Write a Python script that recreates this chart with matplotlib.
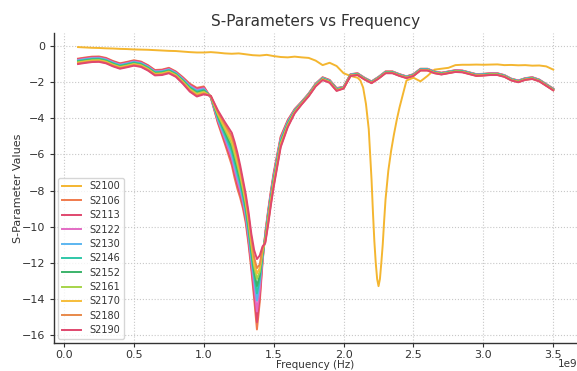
import numpy as np
import matplotlib
matplotlib.use("Agg")
import matplotlib.pyplot as plt

# ---------------- data (frequency in GHz, converted to Hz when drawn) ----------------
freq_ref = [0.10, 0.15, 0.20, 0.25, 0.30, 0.35, 0.40, 0.45, 0.50, 0.55, 0.60, 0.65, 0.70, 0.75,
            0.80, 0.85, 0.90, 0.95, 1.00, 1.05, 1.10, 1.15, 1.20, 1.25, 1.30, 1.35, 1.40, 1.45,
            1.50, 1.55, 1.60, 1.65, 1.70, 1.75, 1.80, 1.85, 1.90, 1.95, 2.00, 2.05, 2.10,
            2.12, 2.14, 2.16, 2.18, 2.20,
            2.21, 2.22, 2.23, 2.24, 2.25, 2.26, 2.27, 2.28, 2.29, 2.30,
            2.32, 2.34, 2.36, 2.38, 2.40,
            2.45, 2.50, 2.55, 2.60, 2.65, 2.70, 2.75, 2.80, 2.85, 2.90, 2.95, 3.00, 3.05,
            3.10, 3.15, 3.20, 3.25, 3.30, 3.35, 3.40, 3.45, 3.50]

S2100 = [-0.05, -0.07, -0.09, -0.10, -0.12, -0.13, -0.15, -0.16, -0.18, -0.19, -0.20, -0.22, -0.24, -0.26,
         -0.27, -0.30, -0.33, -0.35, -0.35, -0.33, -0.36, -0.40, -0.42, -0.40, -0.45, -0.50, -0.52, -0.48,
         -0.55, -0.60, -0.62, -0.58, -0.62, -0.65, -0.80, -1.05, -0.92, -1.10, -1.50, -1.65, -1.75,
         -1.90, -2.30, -3.20, -4.60, -7.40,
         -9.20, -10.80, -12.00, -12.90, -13.30, -12.90, -12.00, -11.00, -9.70, -8.50,
         -6.90, -5.80, -4.90, -4.10, -3.40,
         -1.90, -1.75, -1.95, -1.65, -1.30, -1.25, -1.20, -1.05, -1.03, -1.03, -1.02, -1.03, -1.02,
         -1.01, -1.05, -1.04, -1.06, -1.05, -1.08, -1.07, -1.12, -1.30]

freq = [0.10, 0.15, 0.20, 0.25, 0.30, 0.35, 0.40, 0.45, 0.50, 0.55, 0.60, 0.65, 0.70, 0.75,
        0.80, 0.85, 0.90, 0.95, 1.00, 1.05, 1.10, 1.15, 1.20,
        1.22, 1.24, 1.26, 1.28, 1.30, 1.32, 1.34, 1.36, 1.38, 1.40, 1.42, 1.44, 1.46, 1.48, 1.50,
        1.55, 1.60, 1.65, 1.70, 1.75, 1.80, 1.85, 1.90, 1.95,
        2.00, 2.05, 2.10, 2.15, 2.20, 2.25, 2.30, 2.35, 2.40, 2.45, 2.50, 2.55, 2.60, 2.65, 2.70,
        2.75, 2.80, 2.85, 2.90, 2.95, 3.00, 3.05, 3.10, 3.15, 3.20, 3.25, 3.30, 3.35, 3.40, 3.45, 3.50]

S2106 = [-0.69, -0.63, -0.58, -0.57, -0.65, -0.82, -0.95, -0.87, -0.78, -0.85, -1.05, -1.32, -1.30, -1.20, -1.40,
         -1.72, -2.08, -2.31, -2.23,
         -2.85, -4.25, -5.40, -6.60, -7.30, -7.90, -8.40, -9.00, -9.80, -11.00, -12.40,
         -14.00, -15.70, -14.20, -12.00,
         -10.30, -9.10, -8.00, -7.00, -5.00, -4.10, -3.48,
         -3.07, -2.62, -2.07, -1.72, -1.87, -2.32,
         -2.25, -1.55, -1.50, -1.75, -1.95, -1.70, -1.40, -1.40, -1.55, -1.67, -1.55, -1.25, -1.25, -1.40, -1.47,
         -1.40, -1.33, -1.35, -1.45, -1.55, -1.53, -1.50, -1.50, -1.60, -1.80, -1.90, -1.77, -1.72, -1.85, -2.10, -2.35]
S2113 = [-0.72, -0.66, -0.61, -0.60, -0.68, -0.85, -0.98, -0.90, -0.81, -0.88, -1.08, -1.35, -1.33, -1.23, -1.43,
         -1.76, -2.13, -2.36, -2.28,
         -2.84, -4.17, -5.27, -6.40, -7.08, -7.68, -8.20, -8.82, -9.62, -10.80, -12.18,
         -13.70, -15.30, -13.90, -11.90,
         -10.37, -9.19, -8.09, -7.09, -5.07, -4.14, -3.51,
         -3.09, -2.64, -2.09, -1.74, -1.89, -2.34,
         -2.26, -1.56, -1.51, -1.76, -1.96, -1.71, -1.41, -1.41, -1.56, -1.68, -1.56, -1.26, -1.26, -1.41, -1.48,
         -1.41, -1.34, -1.36, -1.46, -1.56, -1.54, -1.51, -1.51, -1.61, -1.81, -1.91, -1.78, -1.73, -1.86, -2.11, -2.36]
S2122 = [-0.76, -0.70, -0.65, -0.64, -0.72, -0.89, -1.02, -0.94, -0.85, -0.92, -1.12, -1.39, -1.37, -1.27, -1.47,
         -1.80, -2.18, -2.42, -2.33,
         -2.83, -4.09, -5.13, -6.20, -6.86, -7.46, -8.00, -8.64, -9.44, -10.60, -11.96,
         -13.30, -14.70, -13.50, -11.80,
         -10.43, -9.28, -8.18, -7.18, -5.13, -4.19, -3.53,
         -3.11, -2.66, -2.11, -1.76, -1.91, -2.36,
         -2.27, -1.57, -1.52, -1.77, -1.97, -1.72, -1.42, -1.42, -1.57, -1.69, -1.57, -1.27, -1.27, -1.42, -1.49,
         -1.42, -1.35, -1.37, -1.47, -1.57, -1.55, -1.52, -1.52, -1.62, -1.82, -1.92, -1.79, -1.74, -1.87, -2.12, -2.37]
S2130 = [-0.79, -0.73, -0.68, -0.67, -0.75, -0.92, -1.05, -0.97, -0.88, -0.95, -1.15, -1.42, -1.40, -1.30, -1.50,
         -1.84, -2.23, -2.47, -2.38,
         -2.82, -4.02, -5.00, -6.00, -6.63, -7.23, -7.80, -8.47, -9.27, -10.40, -11.73,
         -12.90, -14.10, -13.10, -11.70,
         -10.50, -9.37, -8.27, -7.27, -5.20, -4.23, -3.56,
         -3.12, -2.67, -2.12, -1.77, -1.92, -2.37,
         -2.28, -1.58, -1.53, -1.78, -1.98, -1.73, -1.43, -1.43, -1.58, -1.70, -1.58, -1.28, -1.28, -1.43, -1.50,
         -1.43, -1.36, -1.38, -1.48, -1.58, -1.56, -1.53, -1.53, -1.63, -1.83, -1.93, -1.80, -1.75, -1.88, -2.13, -2.38]
S2146 = [-0.82, -0.76, -0.71, -0.70, -0.78, -0.95, -1.08, -1.00, -0.91, -0.98, -1.18, -1.45, -1.43, -1.33, -1.53,
         -1.88, -2.28, -2.52, -2.43,
         -2.81, -3.94, -4.87, -5.80, -6.41, -7.01, -7.60, -8.29, -9.09, -10.20, -11.51,
         -12.70, -13.70, -12.90, -11.60,
         -10.57, -9.46, -8.36, -7.36, -5.27, -4.28, -3.59,
         -3.14, -2.69, -2.14, -1.79, -1.94, -2.39,
         -2.29, -1.59, -1.54, -1.79, -1.99, -1.74, -1.44, -1.44, -1.59, -1.71, -1.59, -1.29, -1.29, -1.44, -1.51,
         -1.44, -1.37, -1.39, -1.49, -1.59, -1.57, -1.54, -1.54, -1.64, -1.84, -1.94, -1.81, -1.76, -1.89, -2.14, -2.39]
S2152 = [-0.86, -0.80, -0.75, -0.74, -0.82, -0.99, -1.12, -1.04, -0.95, -1.02, -1.22, -1.49, -1.47, -1.37, -1.57,
         -1.92, -2.32, -2.58, -2.47,
         -2.79, -3.86, -4.73, -5.60, -6.19, -6.79, -7.40, -8.11, -8.91, -10.00, -11.29,
         -12.50, -13.30, -12.70, -11.50,
         -10.63, -9.54, -8.44, -7.44, -5.33, -4.32, -3.61,
         -3.16, -2.71, -2.16, -1.81, -1.96, -2.41,
         -2.31, -1.61, -1.56, -1.81, -2.01, -1.76, -1.46, -1.46, -1.61, -1.73, -1.61, -1.31, -1.31, -1.46, -1.53,
         -1.46, -1.39, -1.41, -1.51, -1.61, -1.59, -1.56, -1.56, -1.66, -1.86, -1.96, -1.83, -1.78, -1.91, -2.16, -2.41]
S2161 = [-0.89, -0.83, -0.78, -0.77, -0.85, -1.02, -1.15, -1.07, -0.98, -1.05, -1.25, -1.52, -1.50, -1.40, -1.60,
         -1.96, -2.37, -2.63, -2.52,
         -2.78, -3.78, -4.60, -5.40, -5.97, -6.57, -7.20, -7.93, -8.73, -9.80, -11.07,
         -12.20, -12.90, -12.50, -11.40,
         -10.70, -9.63, -8.53, -7.53, -5.40, -4.37, -3.64,
         -3.18, -2.73, -2.18, -1.83, -1.98, -2.43,
         -2.32, -1.62, -1.57, -1.82, -2.02, -1.77, -1.47, -1.47, -1.62, -1.74, -1.62, -1.32, -1.32, -1.47, -1.54,
         -1.47, -1.40, -1.42, -1.52, -1.62, -1.60, -1.57, -1.57, -1.67, -1.87, -1.97, -1.84, -1.79, -1.92, -2.17, -2.42]
S2170 = [-0.92, -0.86, -0.81, -0.80, -0.88, -1.05, -1.18, -1.10, -1.01, -1.08, -1.28, -1.55, -1.53, -1.43, -1.63,
         -2.00, -2.42, -2.68, -2.57,
         -2.77, -3.71, -4.47, -5.20, -5.74, -6.34, -7.00, -7.76, -8.56, -9.60, -10.84,
         -12.00, -12.60, -12.30, -11.30,
         -10.77, -9.72, -8.62, -7.62, -5.47, -4.41, -3.67,
         -3.19, -2.74, -2.19, -1.84, -1.99, -2.44,
         -2.33, -1.63, -1.58, -1.83, -2.03, -1.78, -1.48, -1.48, -1.63, -1.75, -1.63, -1.33, -1.33, -1.48, -1.55,
         -1.48, -1.41, -1.43, -1.53, -1.63, -1.61, -1.58, -1.58, -1.68, -1.88, -1.98, -1.85, -1.80, -1.93, -2.18, -2.43]
S2180 = [-0.96, -0.90, -0.85, -0.84, -0.92, -1.09, -1.22, -1.14, -1.05, -1.12, -1.32, -1.59, -1.57, -1.47, -1.67,
         -2.04, -2.47, -2.74, -2.62,
         -2.76, -3.63, -4.33, -5.00, -5.52, -6.12, -6.80, -7.58, -8.38, -9.40, -10.62,
         -11.70, -12.30, -12.10, -11.20,
         -10.83, -9.81, -8.71, -7.71, -5.53, -4.46, -3.69,
         -3.21, -2.76, -2.21, -1.86, -2.01, -2.46,
         -2.34, -1.64, -1.59, -1.84, -2.04, -1.79, -1.49, -1.49, -1.64, -1.76, -1.64, -1.34, -1.34, -1.49, -1.56,
         -1.49, -1.42, -1.44, -1.54, -1.64, -1.62, -1.59, -1.59, -1.69, -1.89, -1.99, -1.86, -1.81, -1.94, -2.19, -2.44]
S2190 = [-0.99, -0.93, -0.88, -0.87, -0.95, -1.12, -1.25, -1.17, -1.08, -1.15, -1.35, -1.62, -1.60, -1.50, -1.70,
         -2.08, -2.52, -2.79, -2.67,
         -2.75, -3.55, -4.20, -4.80, -5.30, -5.90, -6.60, -7.40, -8.20, -9.20, -10.40,
         -11.30, -11.80, -11.60, -11.10,
         -10.90, -9.90, -8.80, -7.80, -5.60, -4.50, -3.72,
         -3.23, -2.78, -2.23, -1.88, -2.03, -2.48,
         -2.35, -1.65, -1.60, -1.85, -2.05, -1.80, -1.50, -1.50, -1.65, -1.77, -1.65, -1.35, -1.35, -1.50, -1.57,
         -1.50, -1.43, -1.45, -1.55, -1.65, -1.63, -1.60, -1.60, -1.70, -1.90, -2.00, -1.87, -1.82, -1.95, -2.20, -2.45]

labels = ["S2100", "S2106", "S2113", "S2122", "S2130", "S2146",
          "S2152", "S2161", "S2170", "S2180", "S2190"]
cluster = [S2106, S2113, S2122, S2130, S2146, S2152, S2161, S2170, S2180, S2190]
colors = ["#f4b630", "#f07a4c", "#e0486e", "#e36bc4", "#5bb6f0", "#2fc7a8",
          "#3bb36a", "#a6d44a", "#f6bd3a", "#e8894a", "#e0476e"]

# ---------------- figure ----------------
plt.rcParams['font.family'] = ['DejaVu Sans']
fig = plt.figure(figsize=(5.77, 3.71), dpi=100)
ax = fig.add_axes([54 / 577, 28 / 371, 523 / 577, 310 / 371])

text_col = "#333333"
ax.plot(np.array(freq_ref) * 1e9, S2100, color=colors[0], lw=1.4, label=labels[0])
for lab, vals, col in zip(labels[1:], cluster, colors[1:]):
    ax.plot(np.array(freq) * 1e9, vals, color=col, lw=1.4, label=lab)

ax.set_xlim(-0.072e9, 3.67e9)
ax.set_ylim(-16.45, 0.73)
ax.set_yticks([0, -2, -4, -6, -8, -10, -12, -14, -16])

ax.grid(True, linestyle=":", color="#c8c8c8", linewidth=0.8)
ax.set_axisbelow(True)
for s in ["top", "right"]:
    ax.spines[s].set_visible(False)
for s in ["left", "bottom"]:
    ax.spines[s].set_color("#333333")
    ax.spines[s].set_linewidth(1.0)
ax.tick_params(axis="both", labelsize=8, colors=text_col, length=3)
ax.tick_params(axis="x", pad=2)

# scale marker placed on the same row as the x label
ax.xaxis.get_offset_text().set_visible(False)
ax.text(1.0, -0.052, "1e9", transform=ax.transAxes, ha="right", va="top",
        fontsize=7.5, color=text_col)

ax.set_title("S-Parameters vs Frequency", fontsize=11, color=text_col, pad=5)
ax.set_xlabel("Frequency (Hz)", fontsize=7.5, color=text_col, labelpad=0)
ax.set_ylabel("S-Parameter Values", fontsize=8, color=text_col, labelpad=-1)

leg = ax.legend(loc="lower left", fontsize=7, frameon=True, handlelength=2.0,
                labelspacing=0.45, borderaxespad=0.4)
leg.get_frame().set_edgecolor("#cccccc")
for t in leg.get_texts():
    t.set_color(text_col)

fig.savefig("out.png", dpi=100)
